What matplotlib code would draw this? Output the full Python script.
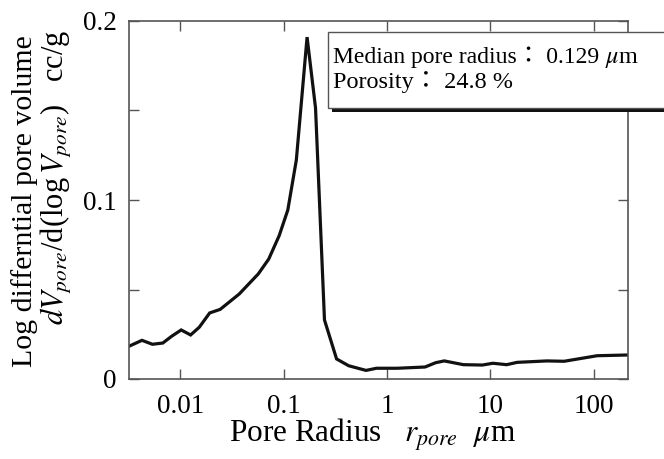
import numpy as np
import matplotlib
matplotlib.use("Agg")
import matplotlib.pyplot as plt
from matplotlib.patches import Rectangle
from matplotlib.ticker import FixedLocator, FixedFormatter, MultipleLocator, NullLocator

plt.rcParams['font.family'] = ['Liberation Serif', 'Noto Sans CJK JP']
plt.rcParams['mathtext.fontset'] = 'stix'

# pore radius (um) and log differential pore volume (cc/g)
radius = [0.0032, 0.00427, 0.00539, 0.0068, 0.00824, 0.01023, 0.01262, 0.0153,
          0.0193, 0.0244, 0.0373, 0.057, 0.0719, 0.0908, 0.110, 0.133, 0.169,
          0.204, 0.249, 0.326, 0.427, 0.628, 0.792, 1.26, 2.34, 2.96, 3.59,
          5.5, 8.4, 10.6, 14.4, 18.2, 35.2, 51.8, 108, 208]
dv = [0.0183, 0.0216, 0.0194, 0.0201, 0.0238, 0.0274, 0.0246, 0.0289,
      0.0369, 0.0389, 0.0475, 0.0587, 0.0670, 0.0801, 0.0944, 0.1223, 0.191,
      0.1514, 0.033, 0.0112, 0.0074, 0.0048, 0.0060, 0.0060, 0.0067, 0.0091, 0.0101,
      0.0080, 0.0078, 0.0088, 0.0080, 0.0093, 0.0101, 0.0099, 0.0130, 0.0134]

xticks = [0.01, 0.1, 1, 10, 100]
xlabels = ['0.01', '0.1', '1', '10', '100']
yticks = [0, 0.1, 0.2]
ylabels = ['0', '0.1', '0.2']

W, H = 664, 459
fig = plt.figure(figsize=(W / 100, H / 100), dpi=100)
ax = fig.add_axes([129 / W, 1 - 379 / H, (628 - 129) / W, (379 - 21) / H])

ax.plot(radius, dv, color='#111111', lw=2.3, solid_joinstyle='miter')
ax.set_xscale('log')
ax.set_xlim(0.0032, 215)
ax.set_ylim(0, 0.2)

ax.xaxis.set_major_locator(FixedLocator(xticks))
ax.xaxis.set_major_formatter(FixedFormatter(xlabels))
ax.xaxis.set_minor_locator(NullLocator())
ax.yaxis.set_major_locator(FixedLocator(yticks))
ax.yaxis.set_major_formatter(FixedFormatter(ylabels))
ax.yaxis.set_minor_locator(MultipleLocator(0.05))

ax.tick_params(which='both', direction='in', top=True, right=True,
               length=7, width=1, color='#555555', labelsize=19.5)
ax.tick_params(axis='x', pad=11)
ax.tick_params(axis='y', pad=9)
for s in ax.spines.values():
    s.set_color('#555555')
    s.set_linewidth(1.2)

# axis labels
fig.text(372 / W, 1 - 443 / H, r'Pore Radius   $r_{pore}$  $\mu$m',
         ha='center', va='baseline', fontsize=22.5)
fig.text(25 / W, 1 - 201 / H, 'Log differntial pore volume',
         rotation=90, ha='center', va='center', fontsize=21.5)
fig.text(57 / W, 1 - 177 / H, r'$dV_{pore}$/d(log$\,V_{pore}$)   cc/g',
         rotation=90, ha='center', va='center', fontsize=22)

# annotation box with shadow
shadow = Rectangle((332 / W, 1 - 112 / H), 400 / W, 76 / H,
                   transform=fig.transFigure, facecolor='#111111',
                   edgecolor='none', zorder=5)
box = Rectangle((328 / W, 1 - 108 / H), 400 / W, 76 / H,
                transform=fig.transFigure, facecolor='white',
                edgecolor='#555555', lw=1, zorder=6)
fig.add_artist(shadow)
fig.add_artist(box)
t1 = fig.text(333 / W, 1 - 63 / H, 'Median pore radius\uff1a 0.129',
              ha='left', va='baseline', fontsize=17, zorder=7)
fig.text(333 / W, 1 - 88 / H, 'Porosity\uff1a 24.8 %',
         ha='left', va='baseline', fontsize=17.5, zorder=7)
fig.canvas.draw()
bb = t1.get_window_extent()
fig.text((bb.x1 + 6) / W, 1 - 63 / H, r'$\mu$m',
         ha='left', va='baseline', fontsize=17.5, zorder=7)

fig.savefig('out.png', dpi=100)
